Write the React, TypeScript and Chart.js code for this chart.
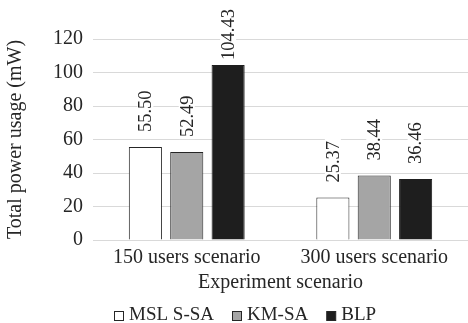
import React, { useEffect, useRef } from "react";
import { Chart, registerables } from "chart.js";

Chart.register(...registerables);

const categories = ["150 users scenario", "300 users scenario"];
const seriesNames = ["MSL S-SA", "KM-SA", "BLP"];
const mslSsa = [55.5, 25.37];
const kmSa = [52.49, 38.44];
const blp = [104.43, 36.46];
const yTitle = "Total power usage (mW)";
const xTitle = "Experiment scenario";

const FONT = '"Liberation Serif", "Times New Roman", serif';
const TEXT = "#262626";

Chart.defaults.font.family = FONT;

const valueLabels = {
  id: "valueLabels",
  afterDatasetsDraw(chart: any) {
    const ctx = chart.ctx as CanvasRenderingContext2D;
    const fs = 18.5;
    ctx.save();
    ctx.font = `${fs}px ${FONT}`;
    ctx.textBaseline = "middle";
    ctx.textAlign = "left";
    chart.data.datasets.forEach((ds: any, di: number) => {
      const meta = chart.getDatasetMeta(di);
      meta.data.forEach((bar: any, i: number) => {
        const v = ds.data[i] as number;
        const text = v.toFixed(2);
        const w = ctx.measureText(text).width;
        let start = bar.y - 15;
        if (start - w < 9) start = 9 + w;
        ctx.save();
        ctx.translate(bar.x, start);
        ctx.rotate(-Math.PI / 2);
        ctx.fillStyle = "#ffffff";
        ctx.fillRect(-2, -8, w + 4, 16);
        ctx.fillStyle = TEXT;
        ctx.fillText(text, 0, 1);
        ctx.restore();
      });
    });
    ctx.restore();
  },
};

const customLegend = {
  id: "customLegend",
  afterDraw(chart: any) {
    const ctx = chart.ctx as CanvasRenderingContext2D;
    const fs = 19;
    const box = 10;
    const gap = 5;
    const itemGap = 18;
    ctx.save();
    ctx.font = `${fs}px "Liberation Serif", serif`;
    ctx.textBaseline = "middle";
    ctx.textAlign = "left";
    const items = chart.data.datasets.map((ds: any) => ({
      label: ds.label as string,
      fill: ds.backgroundColor as string,
      w: ctx.measureText(ds.label).width,
    }));
    const total =
      items.reduce((a: number, it: any) => a + box + gap + it.w, 0) +
      itemGap * (items.length - 1);
    let x = Math.round(245 - total / 2);
    const cy = 316;
    items.forEach((it: any) => {
      ctx.fillStyle = it.fill;
      ctx.fillRect(x + 0.5, cy - box / 2 + 0.5, box - 1, box - 1);
      ctx.strokeStyle = "#262626";
      ctx.lineWidth = 1;
      ctx.strokeRect(x + 0.5, cy - box / 2 + 0.5, box - 1, box - 1);
      x += box + gap;
      ctx.fillStyle = TEXT;
      ctx.fillText(it.label, x, cy - 1);
      x += it.w + itemGap;
    });
    ctx.restore();
  },
};

export default function App() {
  const ref = useRef<HTMLCanvasElement | null>(null);
  useEffect(() => {
    if (!ref.current) return;
    const chart = new Chart(ref.current, {
      type: "bar",
      data: {
        labels: categories,
        datasets: [
          {
            label: seriesNames[0],
            data: mslSsa,
            backgroundColor: "#ffffff",
            borderColor: "#262626",
            borderWidth: 1,
          },
          {
            label: seriesNames[1],
            data: kmSa,
            backgroundColor: "#a5a5a5",
            borderColor: "#262626",
            borderWidth: 1,
          },
          {
            label: seriesNames[2],
            data: blp,
            backgroundColor: "#1e1e1e",
            borderColor: "#1e1e1e",
            borderWidth: 1,
          },
        ],
      },
      plugins: [valueLabels, customLegend],
      options: {
        animation: false,
        responsive: false,
        maintainAspectRatio: false,
        layout: { padding: { top: 39, left: 0, right: 0, bottom: 28 } },
        datasets: {
          bar: { categoryPercentage: 0.662, barPercentage: 0.8 },
        },
        plugins: {
          tooltip: { enabled: false },
          legend: { display: false },
        },
        scales: {
          x: {
            grid: { display: false, drawTicks: false },
            border: { display: true, color: "#d9d9d9", width: 1 },
            ticks: { font: { family: FONT, size: 20 }, color: TEXT, padding: 6 },
            title: {
              display: true,
              text: xTitle,
              font: { family: FONT, size: 20 },
              color: TEXT,
              padding: { top: 0, bottom: 0 },
            },
            afterFit: (s: any) => {
              s.height = 55;
            },
          },
          y: {
            min: 0,
            max: 120,
            ticks: {
              stepSize: 20,
              font: { family: FONT, size: 20 },
              color: TEXT,
              padding: 10,
            },
            grid: { color: "#d9d9d9", drawTicks: false },
            border: { display: false },
            title: {
              display: true,
              text: yTitle,
              font: { family: FONT, size: 20 },
              color: TEXT,
              padding: { top: 4, bottom: 4 },
            },
            afterFit: (s: any) => {
              s.width = 93;
            },
          },
        },
      },
    });
    return () => chart.destroy();
  }, []);
  return (
    <div style={{ position: "fixed", left: 0, top: 0, width: 468, height: 323, background: "#fff" }}>
      <canvas ref={ref} width={468} height={323} style={{ display: "block" }} />
    </div>
  );
}
